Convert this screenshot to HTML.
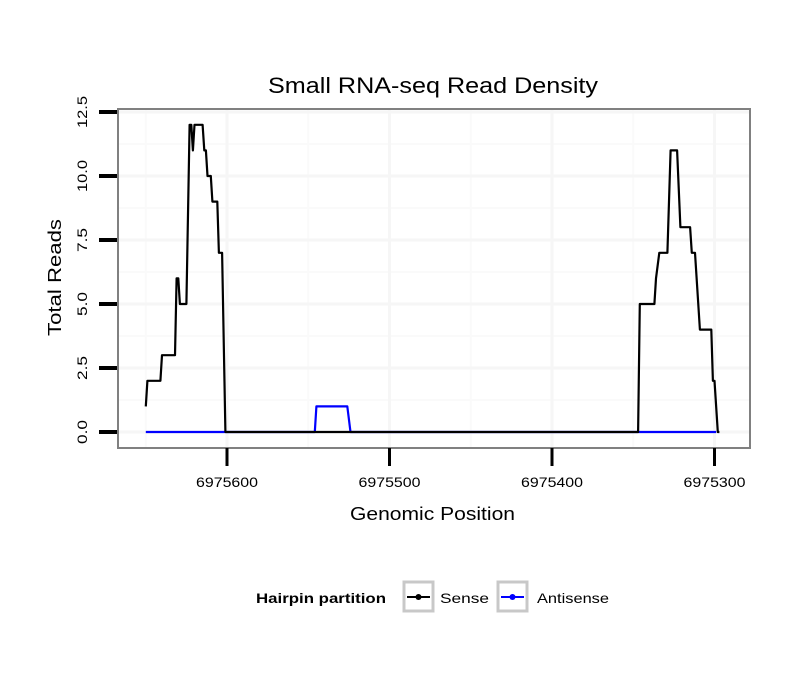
<!DOCTYPE html>
<html><head><meta charset="utf-8"><style>
body{margin:0;background:#fff;font-family:"Liberation Sans",Arial,sans-serif}
</style></head><body>
<svg id="chart" width="810" height="690" xmlns="http://www.w3.org/2000/svg" font-family="Liberation Sans, Arial, sans-serif">
<rect width="810" height="690" fill="#fff"/>
<text x="268" y="93" font-size="22" textLength="330" lengthAdjust="spacingAndGlyphs">Small RNA-seq Read Density</text>
<g id="grid"></g>
<g id="series"></g>
<rect x="118" y="109" width="632" height="339" fill="none" stroke="#808080" stroke-width="2"/>
<g id="axes"></g>
<text x="350" y="520" font-size="18" textLength="165" lengthAdjust="spacingAndGlyphs">Genomic Position</text>
<text transform="translate(61,336) rotate(-90)" font-size="18" textLength="117" lengthAdjust="spacingAndGlyphs">Total Reads</text>
<g>
<text x="256" y="603" font-size="14" font-weight="bold" textLength="130" lengthAdjust="spacingAndGlyphs">Hairpin partition</text>
<g>
<rect x="404" y="582" width="29" height="29" fill="#fff" stroke="#c8c8c8" stroke-width="3"/>
<line x1="407" y1="597" x2="430" y2="597" stroke="#000" stroke-width="2"/>
<circle cx="418.5" cy="597" r="3" fill="#000"/>
<text x="440" y="603" font-size="14" textLength="49" lengthAdjust="spacingAndGlyphs">Sense</text></g>
<g>
<rect x="498" y="582" width="29" height="29" fill="#fff" stroke="#c8c8c8" stroke-width="3"/>
<line x1="501" y1="597" x2="524" y2="597" stroke="#00f" stroke-width="2"/>
<circle cx="512.5" cy="597" r="3" fill="#00f"/>
<text x="537" y="603" font-size="14" textLength="72" lengthAdjust="spacingAndGlyphs">Antisense</text></g>
</g>
</svg>
<script>
const xTicks=[6975600,6975500,6975400,6975300];
const yTicks=[0,2.5,5,7.5,10,12.5];
const yTickLabels=["0.0","2.5","5.0","7.5","10.0","12.5"];
const senseOffsets=[650,649,641,640,632,631,630,629,625,623,622,621,620,615,614,613,612,610,609,606,605,603,601,347,346,337,336,334,329,327,323,321,315,314,312,309,302,301,300,298,297];
const senseValues=[1,2,2,3,3,6,6,5,5,12,12,11,12,12,11,11,10,10,9,9,7,7,0,0,5,5,6,7,7,11,11,8,8,7,7,4,4,2,2,0,0];
const antiOffsets=[650,546,545,526,524,299];
const antiValues=[0,0,1,1,0,0];
const base=6975000;
const NS="http://www.w3.org/2000/svg";
function xs(p){return 227+(6975600-p)*1.625;}
function ys(v){return 432-v*25.6;}
function mk(tag,attrs,parent){const e=document.createElementNS(NS,tag);for(const k in attrs)e.setAttribute(k,attrs[k]);parent.appendChild(e);return e;}
const grid=document.getElementById('grid'),axes=document.getElementById('axes'),series=document.getElementById('series');
for(let i=0;i<xTicks.length;i++){const p=xTicks[i]+50;const x=xs(p);if(x>118&&x<750){const l=mk('line',{x1:x,x2:x,y1:109,y2:448,stroke:'#fafafa','stroke-width':2},grid);}}
for(let i=0;i<yTicks.length;i++){const y=ys(yTicks[i]+1.25);if(y>109){const l=mk('line',{x1:118,x2:750,y1:y,y2:y,stroke:'#fafafa','stroke-width':2},grid);}}
for(let i=0;i<xTicks.length;i++){const x=xs(xTicks[i]);
const g=mk('line',{x1:x,x2:x,y1:109,y2:448,stroke:'#f6f6f6','stroke-width':3},grid);
const t=mk('line',{x1:x,x2:x,y1:448,y2:466,stroke:'#000','stroke-width':3},axes);
const lb=mk('text',{x:x-31,y:487,'font-size':14,textLength:62,lengthAdjust:'spacingAndGlyphs'},axes);lb.textContent=xTicks[i];}
for(let i=0;i<yTicks.length;i++){const y=ys(yTicks[i]);
const g=mk('line',{x1:118,x2:750,y1:y,y2:y,stroke:'#f6f6f6','stroke-width':3},grid);
const t=mk('line',{x1:99,x2:117,y1:y,y2:y,stroke:'#000','stroke-width':4},axes);
const len=yTickLabels[i].length>3?32:24;
const lb=mk('text',{transform:`translate(87,${y+len/2}) rotate(-90)`,'font-size':14,textLength:len,lengthAdjust:'spacingAndGlyphs'},axes);lb.textContent=yTickLabels[i];}
function path(offs,vals,color,name){let d='';for(let i=0;i<offs.length;i++){d+=(i?'L':'M')+xs(base+offs[i]).toFixed(1)+','+ys(vals[i]).toFixed(1);}
const p=mk('path',{d:d,fill:'none',stroke:color,'stroke-width':2.2,'stroke-linejoin':'round'},series);}
path(antiOffsets,antiValues,'#00f','antisense-line');
path(senseOffsets,senseValues,'#000','sense-line');
</script>
</body></html>
